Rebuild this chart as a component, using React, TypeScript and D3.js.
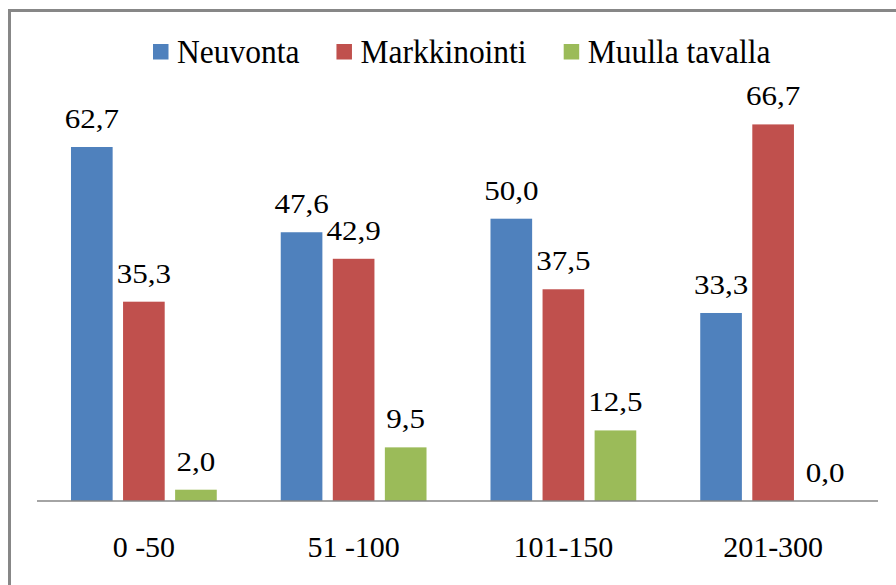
import React from "react";
import * as d3 from "d3";

const categories = ["0 -50", "51 -100", "101-150", "201-300"];
const seriesNames = ["Neuvonta", "Markkinointi", "Muulla tavalla"];
const neuvonta = [62.7, 47.6, 50.0, 33.3];
const markkinointi = [35.3, 42.9, 37.5, 66.7];
const muulla = [2.0, 9.5, 12.5, 0.0];
const colors = ["#4F81BD", "#C0504D", "#9BBB59"];

const W = 896;
const H = 585;
const SERIF = '"Liberation Serif", Tinos, "Nimbus Roman", FreeSerif, "Times New Roman", "DejaVu Serif"';

function measure(text: string, size: number): number {
  const c = document.createElement("canvas");
  const ctx = c.getContext("2d");
  if (!ctx) return text.length * size * 0.5;
  ctx.font = `${size}px ${SERIF}`;
  return ctx.measureText(text).width;
}

export default function App() {
  const values = [neuvonta, markkinointi, muulla];
  const x0 = d3.scaleBand<string>().domain(categories).range([39, 878]).paddingInner(0.305).paddingOuter(0.1525);
  const x1 = d3.scaleBand<string>().domain(seriesNames).range([0, x0.bandwidth()]).paddingInner(0.2);
  const y = d3.scaleLinear().domain([0, 70]).range([501, 501 - 70 * 5.646]);

  const legendSize = 31.5;
  const legendX: number[] = [];
  let lx = 153;
  seriesNames.forEach((s) => {
    legendX.push(lx);
    lx = lx + 24 + measure(s, legendSize) + 37;
  });

  return (
    <div style={{ fontFamily: SERIF, position: "absolute", left: 0, top: 0, width: W, height: H }}>
      <svg width={W} height={H} style={{ display: "block", background: "#fff", fontFamily: SERIF }}>
        <rect x={9.5} y={10.5} width={900} height={600} fill="#fff" stroke="#878787" strokeWidth={3} />
        {seriesNames.map((s, si) =>
          categories.map((c, ci) => {
            const v = values[si][ci];
            const bx = (x0(c) ?? 0) + (x1(s) ?? 0);
            const cx = bx + x1.bandwidth() / 2;
            return (
              <g key={s + c}>
                {v > 0 && (
                  <rect x={bx} y={y(v)} width={x1.bandwidth()} height={y(0) - y(v)} fill={colors[si]} />
                )}
                <text
                  transform={`translate(${cx},${y(v) - 19}) scale(1.15,1)`}
                  style={{ fontFamily: SERIF, fontSize: "27px", textAnchor: "middle" }}
                >
                  {v.toFixed(1).replace(".", ",")}
                </text>
              </g>
            );
          })
        )}
        <line x1={37} x2={878} y1={501} y2={501} stroke="#868686" strokeWidth={1.5} />
        {categories.map((c) => (
          <text
            key={c}
            x={(x0(c) ?? 0) + x0.bandwidth() / 2}
            y={557}
            style={{ fontFamily: SERIF, fontSize: "30px", textAnchor: "middle" }}
          >
            {c}
          </text>
        ))}
        {seriesNames.map((s, si) => (
          <g key={s}>
            <rect x={legendX[si]} y={44} width={15.5} height={15.5} fill={colors[si]} />
            <text
              transform={`translate(${legendX[si] + 24},63) scale(1,1.08)`}
              style={{ fontFamily: SERIF, fontSize: `${legendSize}px` }}
            >
              {s}
            </text>
          </g>
        ))}
      </svg>
    </div>
  );
}
